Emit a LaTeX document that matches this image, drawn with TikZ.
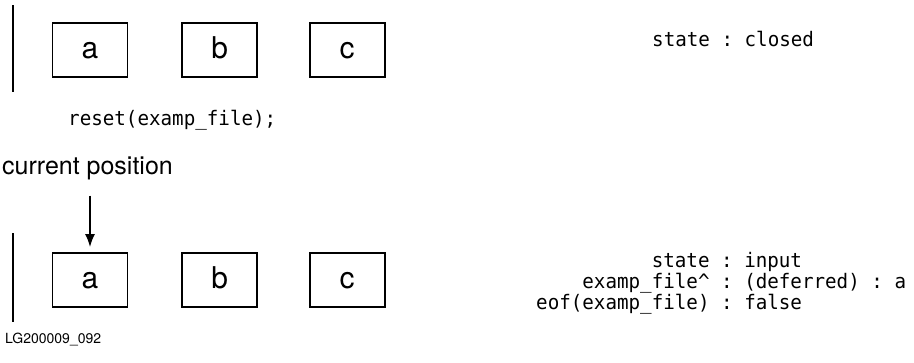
\documentclass[tikz,border=0pt]{standalone}
\usepackage{fontspec}
\setmainfont{TeX Gyre Heros}
\newfontfamily\codefont[FakeStretch=0.96]{DejaVu Sans Mono}
\usepackage{tikz}
\usetikzlibrary{positioning, arrows.meta}
\tikzset{cell/.style={draw, line width=1.6pt, minimum width=75pt, minimum height=54pt, inner sep=0pt, text height=16pt, text depth=0pt, font=\fontsize{30}{30}\selectfont}}
\tikzset{code/.style={inner sep=0pt, font=\codefont\fontsize{20}{19}\selectfont\frenchspacing}}
\tikzset{lbl/.style={inner sep=0pt, font=\fontsize{25}{25}\selectfont}}
\tikzset{bar/.style={line width=2.4pt}}

\begin{document}
\begin{tikzpicture}[x=1pt, y=-1pt]
\useasboundingbox (0,0) rectangle (914,362);
% before reset
\draw[bar] (13,5) -- (13,92);
\node[cell] (a1) at (90,50) {a};
\node[cell, right=53pt of a1] (b1) {b};
\node[cell, right=51pt of b1] (c1) {c};
\node[code, anchor=base west] (st1) at (652,46) {state : closed};
\node[code, anchor=base west] (rst) at (68,125) {reset(examp\_file);};
% after reset
\node[lbl, anchor=base west] (cur) at (2,174) {current position};
\draw[bar] (13,233) -- (13,322);
\node[cell] (a2) at (90,280) {a};
\node[cell, right=53pt of a2] (b2) {b};
\node[cell, right=51pt of b2] (c2) {c};
\draw[-{Latex[length=13pt,width=10pt]}, line width=2pt, shorten <=16pt, shorten >=5pt] (cur.south -| a2.north) -- (a2.north);
\node[code, anchor=base west] (st2) at (536,267) {\begin{tabular}[t]{@{}r@{\ :\ }l@{}}
state & input\\
examp\_file\textasciicircum & (deferred) : a\\
eof(examp\_file) & false
\end{tabular}};
\node[lbl, anchor=base west, font=\fontsize{14}{14}\selectfont] (fig) at (5,343) {LG200009\_092};
\end{tikzpicture}
\end{document}
